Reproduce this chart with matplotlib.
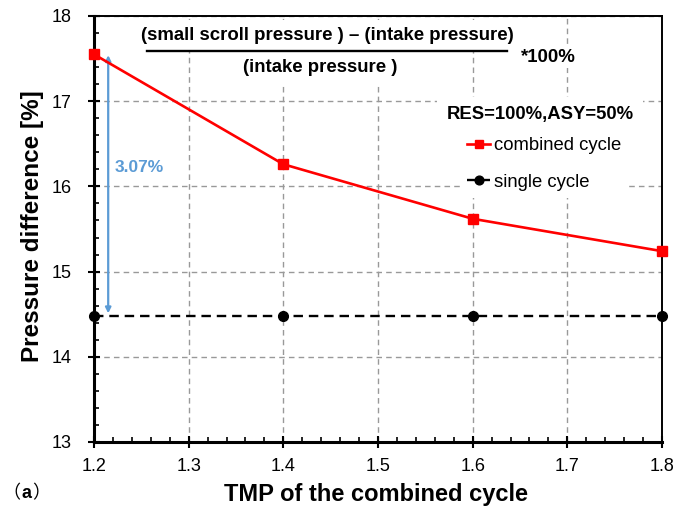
import matplotlib
matplotlib.use("Agg")
import matplotlib.pyplot as plt
from matplotlib import font_manager
from matplotlib.ticker import MultipleLocator

# data
tmp = [1.2, 1.4, 1.6, 1.8]
combined = [17.55, 16.26, 15.62, 15.24]
single = [14.48, 14.48, 14.48, 14.48]
gap_label = "3.07%"
x_ticks = [1.2, 1.3, 1.4, 1.5, 1.6, 1.7, 1.8]
y_ticks = [13, 14, 15, 16, 17, 18]

plt.rcParams['font.family'] = ['Liberation Sans', 'DejaVu Sans']

# tick labels in the reference use a condensed face
names = {f.name for f in font_manager.fontManager.ttflist}
if 'Liberation Sans Narrow' in names:
    tick_family, tick_size = ['Liberation Sans Narrow', 'Liberation Sans'], 15
else:
    tick_family, tick_size = ['Liberation Sans'], 13

fig = plt.figure(figsize=(6.92, 5.07), dpi=100)
ax = fig.add_axes([94 / 692, 65 / 507, 568 / 692, 426 / 507])

ax.plot(tmp, combined, color='red', lw=1.9, marker='s', ms=7,
        label='combined cycle', clip_on=False, zorder=5)
ax.plot(tmp, single, color='black', lw=1.7, ls=(0, (4, 2.5)), marker='o', ms=7,
        label='single cycle', clip_on=False, zorder=4)

ax.set_xlim(1.2, 1.8)
ax.set_ylim(13, 18)
ax.set_xticks(x_ticks)
ax.set_yticks(y_ticks)
ax.xaxis.set_minor_locator(MultipleLocator(0.02))
ax.yaxis.set_minor_locator(MultipleLocator(0.2))
ax.tick_params(which='major', direction='inout', length=8, width=1.5, labelsize=tick_size)
ax.tick_params(axis='x', which='major', pad=7.5)
ax.tick_params(axis='y', which='major', pad=12)
ax.tick_params(which='minor', direction='in', length=3.6, width=1.2)
for lab in ax.get_xticklabels() + ax.get_yticklabels():
    lab.set_family(tick_family)

ax.grid(True, which='major', color='#999999', ls=(0, (4, 3)), lw=1.0)
ax.set_axisbelow(True)
for side in ['left', 'bottom']:
    ax.spines[side].set_linewidth(2.2)
for side in ['top', 'right']:
    ax.spines[side].set_linewidth(1.4)

ax.set_xlabel('TMP of the combined cycle', fontsize=17, fontweight='bold', va='top')
ax.xaxis.set_label_coords(0.4965, -0.097)
ax.set_ylabel('Pressure difference [%]', fontsize=17.5, fontweight='bold')
ax.yaxis.set_label_coords(-0.088, 0.507)

# 3.07% arrow between the two curves at TMP=1.2
ax.annotate('', xy=(1.215, combined[0] - 0.01), xytext=(1.215, single[0] + 0.03),
            arrowprops=dict(arrowstyle='<|-|>', color='#5B9BD5', lw=1.6,
                            mutation_scale=8, shrinkA=0, shrinkB=0))
ax.text(1.222, 16.22, gap_label, color='#5B9BD5', fontsize=12.5, fontweight='bold',
        ha='left', va='center')

# formula
ax.text((327 - 94) / 568, (442 - 35) / 426, '(small scroll pressure ) – (intake pressure)',
        transform=ax.transAxes, ha='center', va='center', fontsize=13.4,
        fontweight='bold', bbox=dict(facecolor='white', edgecolor='none', pad=5), zorder=6)
ax.plot([(147 - 94) / 568, (507 - 94) / 568], [(442 - 51) / 426] * 2,
        transform=ax.transAxes, color='black', lw=1.7, clip_on=False, zorder=7)
ax.text((320 - 94) / 568, (442 - 67) / 426, '(intake pressure )',
        transform=ax.transAxes, ha='center', va='center', fontsize=13.4,
        fontweight='bold', bbox=dict(facecolor='white', edgecolor='none', pad=7), zorder=6)
ax.text((548 - 94) / 568, (442 - 57) / 426, '*100%',
        transform=ax.transAxes, ha='center', va='center', fontsize=13.4,
        fontweight='bold', bbox=dict(facecolor='white', edgecolor='none', pad=2), zorder=6)

ax.text((540 - 94) / 568, (442 - 115) / 426, 'RES=100%,ASY=50%',
        transform=ax.transAxes, ha='center', va='center', fontsize=13.3,
        fontweight='bold', bbox=dict(facecolor='white', edgecolor='none', pad=7), zorder=6)

leg = ax.legend(loc='upper left', bbox_to_anchor=((460 - 94) / 568, (442 - 130) / 426),
                frameon=True, fontsize=13.3, handlelength=1.25, handletextpad=0.2,
                labelspacing=1.05, borderpad=0.4, borderaxespad=0, markerscale=0.9)
leg.get_frame().set_facecolor('white')
leg.get_frame().set_edgecolor('none')
leg.get_frame().set_alpha(1)
leg.get_frame().set_boxstyle('square', pad=0)

fig.text(2 / 692, 1 - 493 / 507, '（', family=['Noto Sans CJK SC', 'DejaVu Sans'],
         fontsize=13, ha='left', va='center')
fig.text(26 / 692, 1 - 493 / 507, 'a', fontsize=13, fontweight='bold',
         ha='center', va='center')
fig.text(32 / 692, 1 - 493 / 507, '）', family=['Noto Sans CJK SC', 'DejaVu Sans'],
         fontsize=13, ha='left', va='center')

fig.savefig('out.png', dpi=100)
